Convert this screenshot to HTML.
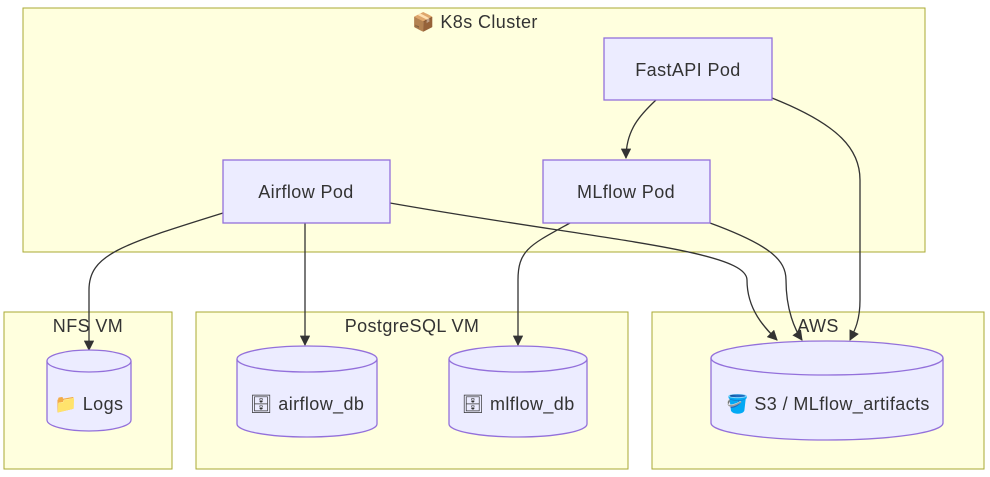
<!DOCTYPE html>
<html><head><meta charset="utf-8"><style>
html,body{margin:0;padding:0;background:#fff;width:990px;height:477px;overflow:hidden}
svg text{font-family:"Liberation Sans","Noto Sans CJK SC",sans-serif;fill:#333;letter-spacing:0.4px}
</style></head><body>
<svg width="990" height="477" viewBox="0 0 990 477" xmlns="http://www.w3.org/2000/svg">
<defs><marker id="a" viewBox="0 0 10 10" refX="9" refY="5" markerWidth="8" markerHeight="8" orient="auto"><path d="M0,0L10,5L0,10z" fill="#333"/></marker></defs>
<g fill="#ffffde" stroke="#aaaa33" stroke-width="1">
<rect x="23" y="8" width="902" height="244"/>
<rect x="4" y="312" width="168" height="157"/>
<rect x="196" y="312" width="432" height="157"/>
<rect x="652" y="312" width="332" height="157"/>
</g>
<g font-size="18" text-anchor="middle">
<text x="475" y="28">📦 K8s Cluster</text>
<text x="88" y="332">NFS VM</text>
<text x="412" y="332">PostgreSQL VM</text>
<text x="818" y="332">AWS</text>
</g>
<g fill="none" stroke="#333" stroke-width="1.3">
<path d="M656,100 C640,115 626,130 626,158" marker-end="url(#a)"/>
<path d="M772,98 C840,125 860,150 860,180 L860,300 C860,320 855,330 850,340" marker-end="url(#a)"/>
<path d="M305,223 L305,345" marker-end="url(#a)"/>
<path d="M223,213 C120,245 89,255 89,290 L89,350" marker-end="url(#a)"/>
<path d="M390,203 C600,240 747,250 747,280 C747,310 765,328 777,340" marker-end="url(#a)"/>
<path d="M570,223 C530,245 518,250 518,280 L518,345" marker-end="url(#a)"/>
<path d="M710,223 C770,245 786,260 786,280 C786,310 795,330 802,340" marker-end="url(#a)"/>
</g>
<g fill="#ececff" stroke="#9370db" stroke-width="1.3">
<rect x="604" y="38" width="168" height="62"/>
<rect x="223" y="160" width="167" height="63"/>
<rect x="543" y="160" width="167" height="63"/>
<path d="M47,361 A42,11 0 0 1 131,361 L131,420 A42,11 0 0 1 47,420 Z"/>
<path d="M47,361 A42,11 0 0 0 131,361"/>
<path d="M237,359 A70,13 0 0 1 377,359 L377,424 A70,13 0 0 1 237,424 Z"/>
<path d="M237,359 A70,13 0 0 0 377,359"/>
<path d="M449,359 A69,13 0 0 1 587,359 L587,424 A69,13 0 0 1 449,424 Z"/>
<path d="M449,359 A69,13 0 0 0 587,359"/>
<path d="M711,358 A116,17 0 0 1 943,358 L943,423 A116,17 0 0 1 711,423 Z"/>
<path d="M711,358 A116,17 0 0 0 943,358"/>
</g>
<g font-size="18" text-anchor="middle">
<text x="688" y="76">FastAPI Pod</text>
<text x="306" y="198">Airflow Pod</text>
<text x="626" y="198">MLflow Pod</text>
<text x="89" y="410">📁 Logs</text>
<text x="307" y="410">🗄 airflow_db</text>
<text x="518" y="410">🗄 mlflow_db</text>
<text x="828" y="410">🪣 S3 / MLflow_artifacts</text>
</g>
</svg>
</body></html>
